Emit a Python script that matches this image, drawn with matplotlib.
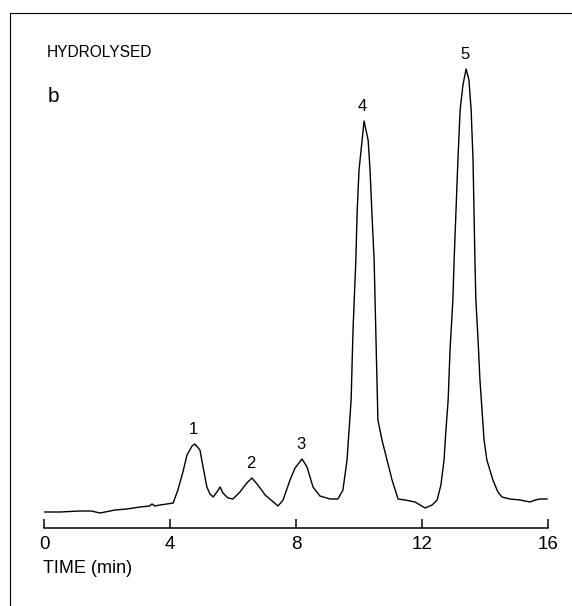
import matplotlib
matplotlib.use('Agg')
import matplotlib.pyplot as plt
from matplotlib.lines import Line2D
import numpy as np

# Chromatogram trace (time in min, detector response in arbitrary units)
time_min = [0.00, 0.51, 1.14, 1.50, 1.78, 2.10, 2.25, 2.63, 3.05, 3.35, 3.43,
            3.52, 3.68, 3.90, 4.10,
            4.25, 4.41, 4.54, 4.70, 4.79, 4.95, 5.05, 5.17, 5.27, 5.37, 5.49,
            5.59, 5.68, 5.84, 6.00, 6.22, 6.44, 6.60, 6.79, 7.02, 7.17, 7.43,
            7.59, 7.81, 7.97, 8.19, 8.35, 8.54, 8.76, 9.08, 9.33, 9.49, 9.62,
            9.75, 9.81, 9.90, 9.94, 10.00, 10.10, 10.16, 10.29, 10.35, 10.41,
            10.48, 10.51, 10.57, 10.60, 10.73, 10.89, 11.05, 11.24, 11.46,
            11.78, 12.10, 12.32, 12.48, 12.60, 12.70, 12.76, 12.83, 12.89,
            12.98, 13.02, 13.08, 13.14, 13.21, 13.30, 13.40, 13.49, 13.56,
            13.62, 13.65, 13.68, 13.71, 13.78, 13.84, 13.97, 14.06, 14.25,
            14.41, 14.54, 14.79, 15.11, 15.43, 15.59, 15.75, 15.97]
response = [16, 16, 17, 17, 15, 17, 18, 19, 21, 22, 24,
            22, 23, 24, 25,
            38, 56, 73, 82, 84, 78, 61, 41, 34, 31, 36,
            41, 35, 30, 29, 36, 45, 50, 43, 33, 29, 22,
            28, 48, 60, 69, 61, 41, 32, 29, 29, 38, 68,
            128, 198, 268, 315, 358, 388, 407, 388, 358, 315,
            268, 228, 148, 108, 88, 68, 48, 29, 28,
            26, 20, 23, 28, 43, 68, 98, 128, 178,
            228, 268, 318, 368, 418, 443, 459, 448, 418,
            368, 318, 268, 228, 188, 148, 88, 68, 48,
            36, 31, 29, 28, 26, 28, 29, 29]

# Peak numbering and retention times
peak_labels = ['1', '2', '3', '4', '5']
peak_times = [4.79, 6.60, 8.19, 10.16, 13.40]

x_ticks = [0, 4, 8, 12, 16]

plt.rcParams['font.family'] = ['Liberation Sans', 'DejaVu Sans']

W, H = 572, 606
fig = plt.figure(figsize=(W / 100, H / 100), dpi=100)
ax = fig.add_axes([44 / W, (H - 528) / H, 504 / W, 500 / H])

ax.plot(time_min, response, color='black', lw=1.0)

for lab, t in zip(peak_labels, peak_times):
    s = np.interp(t, time_min, response)
    ax.annotate(lab, (t, s), xytext=(-1, 7), textcoords='offset points',
                ha='center', va='baseline', fontsize=12)

ax.set_xlim(0, 16)
ax.set_ylim(0, 500)
ax.set_xticks(x_ticks)
ax.set_xticklabels([str(v) for v in x_ticks])
ax.set_yticks([])
for side in ['top', 'right', 'left']:
    ax.spines[side].set_visible(False)
ax.spines['bottom'].set_linewidth(1.1)
ax.tick_params(axis='x', direction='in', length=6.5, width=1.1,
               pad=6, labelsize=13.5)

# Text labels
fig.text(43 / W, 1 - 573 / H, 'TIME (min)', fontsize=13, va='baseline')
fig.text(47 / W, 1 - 57 / H, 'HYDROLYSED', fontsize=11.2, va='baseline')
fig.text(48 / W, 1 - 102 / H, 'b', fontsize=15, va='baseline')

# Panel frame (top and left edges)
fig.add_artist(Line2D([10 / W, 1.0], [1 - 12.7 / H, 1 - 12.7 / H],
                      transform=fig.transFigure, color='black', lw=0.8))
fig.add_artist(Line2D([10 / W, 10 / W], [0, 1 - 12.7 / H],
                      transform=fig.transFigure, color='black', lw=0.8))

fig.savefig('out.png', dpi=100)
